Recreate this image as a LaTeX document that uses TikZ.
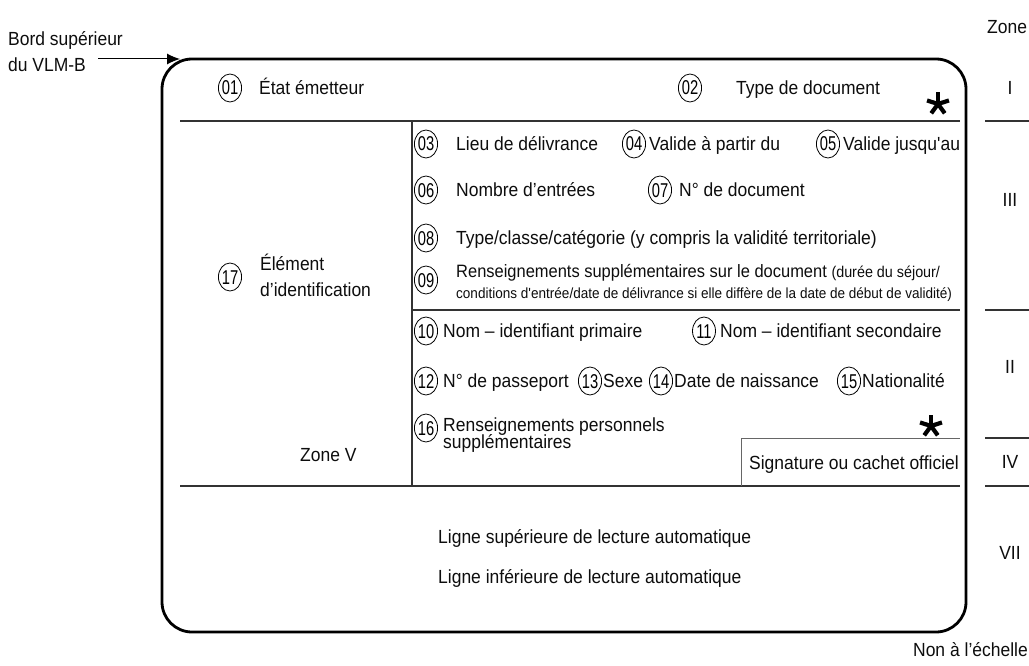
\documentclass[tikz,border=0pt]{standalone}
\usepackage{fontspec}
\setmainfont{Liberation Sans}[FakeStretch=0.92]
\usetikzlibrary{positioning,shapes.geometric,arrows.meta}
\newcommand{\chiffre}[1]{\scalebox{0.8}[1]{#1}}

\begin{document}
\begin{tikzpicture}[x=1pt,y=-1pt]

        \tikzset{
            cadre/.style={line width=2.8pt, rounded corners=30pt},
            trait/.style={line width=1.1pt, draw=black!80},
            fin/.style={line width=0.8pt, draw=black!60},
            fleche/.style={line width=1pt, -{Latex[length=13pt,width=11pt]}},
            num/.style={draw, ellipse, line width=0.8pt, minimum width=23pt, minimum height=28pt,
                inner sep=0pt, text height=14pt, text depth=0pt, font=\fontsize{20}{22}\selectfont},
            champ/.style={anchor=west, inner sep=0pt, text height=13.5pt, text depth=0pt,
                font=\fontsize{19}{21}\selectfont, text=black!95},
            zone/.style={champ, anchor=center},
            petit/.style={champ, font=\fontsize{14.7}{16}\selectfont},
            etoile/.pic={\foreach \a in {270,198,342,54,126}
                \draw[line width=4.2pt] (0,0) -- (\a:11.5);},
        }

        \useasboundingbox (0,0) rectangle (1029,666);

        % contour du VLM-B
        \draw[cadre] (162,59) rectangle (966,632);
        \draw[trait] (180,121) -- (960,121);
        \draw[trait] (412,121) -- (412,486);
        \draw[trait] (412,310) -- (960,310);
        \draw[trait] (180,486) -- (960,486);
        \draw[fin] (741,486) -- (741,438) -- (960,438);

        % bord superieur
        \node[champ] (bord) at (8,39) {Bord supérieur};
        \node[champ] (vlm) at (8,65) {du VLM-B};
        \coordinate (bordhaut) at (180,59);
        \draw[fleche] ([xshift=12pt,yshift=6pt]vlm.east) -- (bordhaut);

        % zone I
        \node[num] (n01) at (230,88) {\chiffre{01}};
        \node[champ] (t01) at (259,88) {État émetteur};
        \node[num] (n02) at (690,88) {\chiffre{02}};
        \node[champ] (t02) at (736,88) {Type de document};
        \pic at (938,104) {etoile};

        % zone III
        \node[num] (n03) at (426,144) {\chiffre{03}};
        \node[champ] (t03) at (456,144) {Lieu de délivrance};
        \node[num] (n04) at (634,144) {\chiffre{04}};
        \node[champ] (t04) at (649,144) {Valide à partir du};
        \node[num] (n05) at (828,144) {\chiffre{05}};
        \node[champ] (t05) at (843,144) {Valide jusqu\textquotesingle au};

        \node[num] (n06) at (426,190) {\chiffre{06}};
        \node[champ] (t06) at (456,190) {Nombre d’entrées};
        \node[num] (n07) at (660,190) {\chiffre{07}};
        \node[champ] (t07) at (679,190) {N° de document};

        \node[num] (n08) at (426,238) {\chiffre{08}};
        \node[champ] (t08) at (456,238) {Type/classe/catégorie (y compris la validité territoriale)};

        \node[num] (n09) at (426,280) {\chiffre{09}};
        \node[champ, font=\fontsize{17.9}{19}\selectfont] (t09) at (456,271)
            {Renseignements supplémentaires sur le document {\fontsize{15.6}{17}\selectfont (durée du séjour/}};
        \node[petit] (t09b) at (456,292)
            {conditions d\textquotesingle entrée/date de délivrance si elle diffère de la date de début de validité)};

        % zone II
        \node[num] (n10) at (426,331) {\chiffre{10}};
        \node[champ] (t10) at (443,331) {Nom – identifiant primaire};
        \node[num] (n11) at (704,331) {\chiffre{11}};
        \node[champ] (t11) at (720,331) {Nom – identifiant secondaire};

        \node[num] (n12) at (426,381) {\chiffre{12}};
        \node[champ] (t12) at (443,381) {N° de passeport};
        \node[num] (n13) at (590,381) {\chiffre{13}};
        \node[champ] (t13) at (603,381) {Sexe};
        \node[num] (n14) at (661,381) {\chiffre{14}};
        \node[champ] (t14) at (674,381) {Date de naissance};
        \node[num] (n15) at (849,381) {\chiffre{15}};
        \node[champ] (t15) at (862,381) {Nationalité};

        \node[num] (n16) at (426,428) {\chiffre{16}};
        \node[champ] (t16) at (443,425) {Renseignements personnels};
        \node[champ] (t16b) at (443,442) {supplémentaires};
        \pic at (931,426) {etoile};

        % zone IV
        \node[champ] (signature) at (749,463) {Signature ou cachet officiel};

        % zone V
        \node[num] (n17) at (230,277) {\chiffre{17}};
        \node[champ] (t17) at (260,264) {Élément};
        \node[champ] (t17b) at (260,290) {d’identification};
        \node[champ] (zonev) at (300,455) {Zone V};

        % zone VII
        \node[champ] (ligne1) at (438,537) {Ligne supérieure de lecture automatique};
        \node[champ] (ligne2) at (438,577) {Ligne inférieure de lecture automatique};

        % zones a droite
        \node[champ] (zone) at (987,27) {Zone};
        \node[zone] (zi) at (1010,88) {I};
        \node[zone] (ziii) at (1010,200) {III};
        \node[zone] (zii) at (1010,367) {II};
        \node[zone] (ziv) at (1010,462) {IV};
        \node[zone] (zvii) at (1010,553) {VII};
        \foreach \y in {121,310,438,486}
            \draw[trait] (985,\y) -- (1029,\y);

        \node[champ, anchor=east] (echelle) at (1028,650) {Non à l’échelle};
    \end{tikzpicture}
\end{document}
